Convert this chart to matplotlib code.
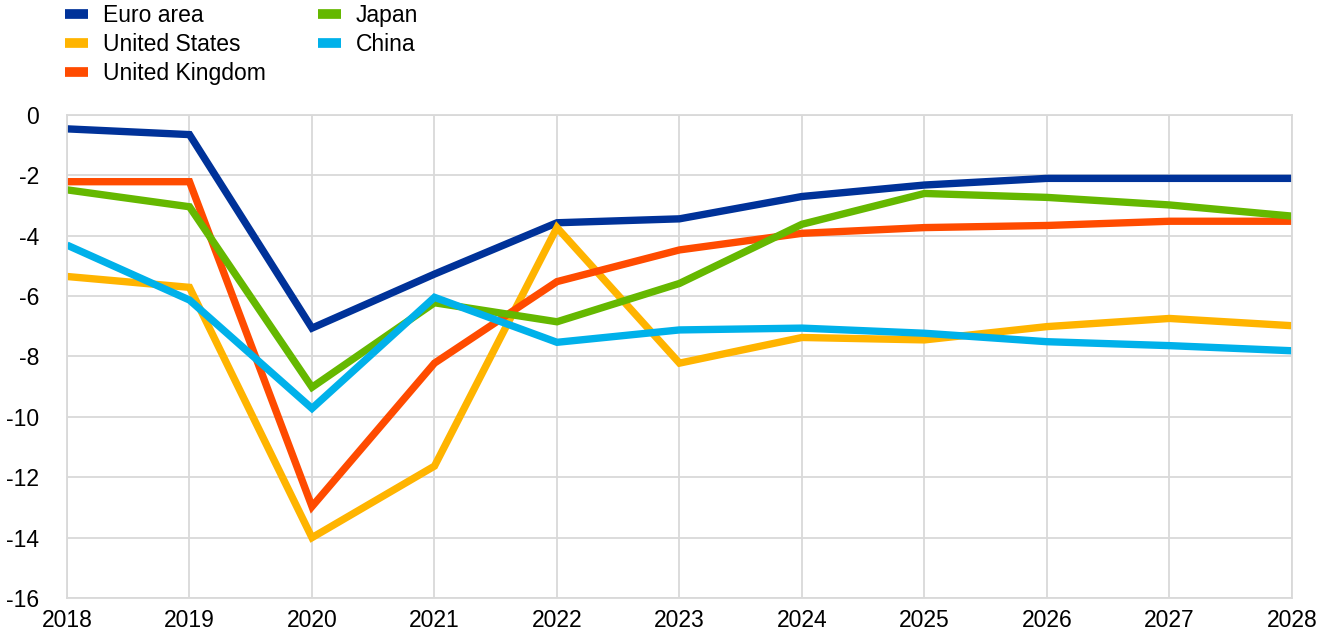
import numpy as np
import matplotlib.pyplot as plt
from matplotlib.ticker import FuncFormatter

plt.rcParams['font.family'] = ['Liberation Sans', 'DejaVu Sans']

years = [2018, 2019, 2020, 2021, 2022, 2023, 2024, 2025, 2026, 2027, 2028]

euro_area = [-0.46, -0.65, -7.06, -5.27, -3.57, -3.44, -2.70, -2.32, -2.10, -2.10, -2.10]
united_states = [-5.35, -5.71, -14.0, -11.63, -3.73, -8.22, -7.37, -7.45, -7.01, -6.74, -6.98]
united_kingdom = [-2.21, -2.21, -12.97, -8.22, -5.52, -4.47, -3.92, -3.73, -3.66, -3.52, -3.52]
japan = [-2.48, -3.04, -9.02, -6.22, -6.85, -5.58, -3.62, -2.60, -2.73, -2.98, -3.35]
china = [-4.31, -6.13, -9.72, -6.04, -7.53, -7.12, -7.06, -7.23, -7.51, -7.64, -7.81]

series = [
    ("Euro area", euro_area, "#003299"),
    ("United States", united_states, "#FFB400"),
    ("United Kingdom", united_kingdom, "#FF4B00"),
    ("Japan", japan, "#65B800"),
    ("China", china, "#00B1EA"),
]

fig = plt.figure(figsize=(13.24, 6.37), dpi=100)
ax = fig.add_axes([0.0506, 0.0612, 0.9252, 0.7583])

for name, vals, col in series:
    ax.plot(years, vals, color=col, lw=5.3, label=name, solid_capstyle='butt',
            solid_joinstyle='miter')

# axes / grid
ax.set_xlim(2018, 2028)
ax.set_ylim(-16, 0)
ax.set_xticks(years)
ax.set_yticks(np.arange(-16, 1, 2))
ax.yaxis.set_major_formatter(FuncFormatter(lambda v, p: f"{v:.0f}"))
ax.grid(True, color="#d9d9d9", lw=1.3)
ax.set_axisbelow(True)
for s in ax.spines.values():
    s.set_color("#d9d9d9")
    s.set_linewidth(1.3)
ax.tick_params(length=0, labelsize=16.5, colors="black")
ax.tick_params(axis='y', pad=20)
ax.tick_params(axis='x', pad=8)

# legend
fig.legend(loc="upper left", bbox_to_anchor=(0.049, 0.993), ncol=2,
           frameon=False, fontsize=16.5, handlelength=1.0, handletextpad=0.65,
           columnspacing=2.3, labelspacing=0.26, borderpad=0, borderaxespad=0)
for line in fig.legends[0].get_lines():
    line.set_linewidth(7)

fig.savefig("out.png", dpi=100)
